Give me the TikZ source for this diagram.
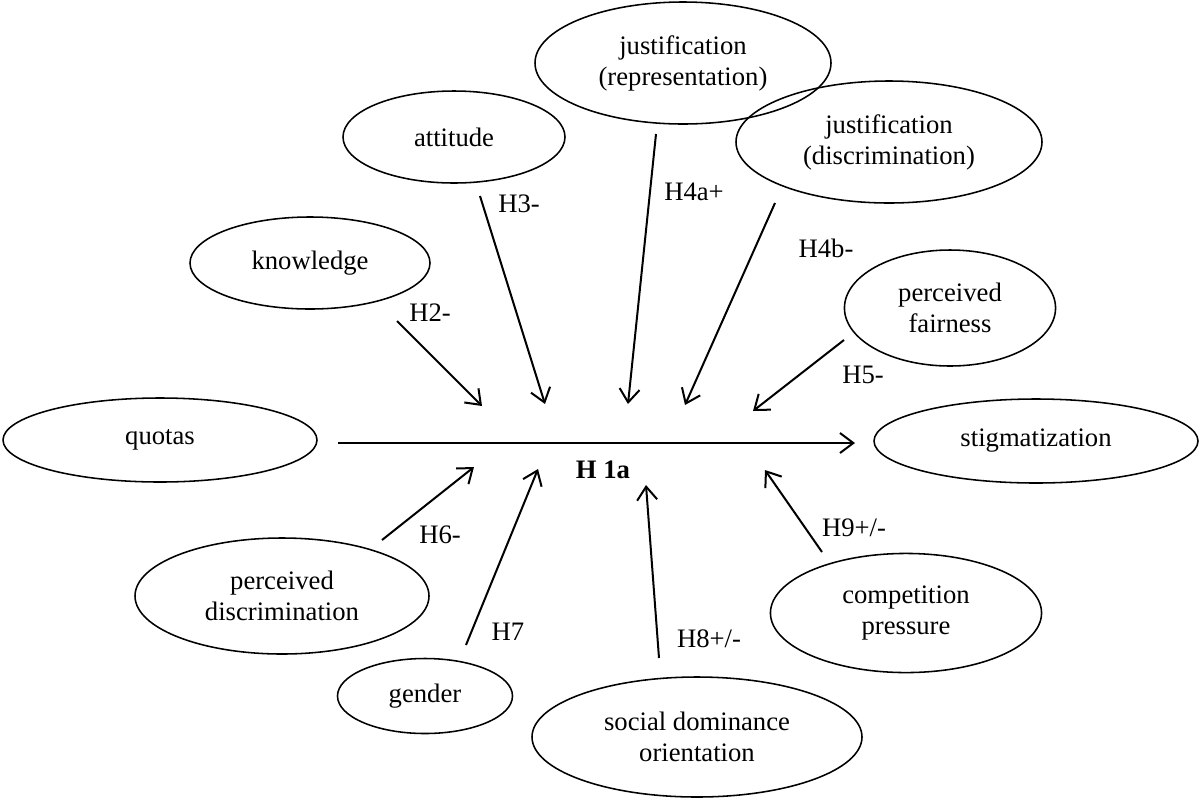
\documentclass[tikz,border=0pt]{standalone}
\usepackage{fontspec}
\setmainfont{Liberation Serif}
\usetikzlibrary{shapes.geometric,arrows.meta}

\def\ya{443}

\tikzset{
  factor/.style={ellipse, draw, line width=0.7pt, inner sep=0pt, align=center,
    font=\fontsize{12}{14}\selectfont},
  hyp/.style={-{Straight Barb[length=6pt,width=9pt]}, line width=0.9pt},
  hlabel/.style={font=\fontsize{12}{14}\selectfont, inner sep=0pt}
}

\begin{document}
\begin{tikzpicture}[x=0.45pt, y={(0pt,-0.45pt)}]
    \useasboundingbox (0,0) rectangle (1201,798);

    \node[factor, minimum width=141.3pt, minimum height=37.8pt] (quotas) at (160, 440) {quotas};
    \node[factor, minimum width=145.8pt, minimum height=37.8pt] (stigma) at (1036, 441) {stigmatization};
    \node[factor, minimum width=108pt, minimum height=41.4pt] (knowledge) at (310, 263) {knowledge};
    \node[factor, minimum width=99.9pt, minimum height=41.4pt] (attitude) at (454, 137) {attitude};
    \node[factor, minimum width=133.2pt, minimum height=54.9pt] (just_rep) at (683, 63)
      {justification\\(representation)};
    \node[factor, minimum width=137.7pt, minimum height=54.9pt] (just_dis) at (889, 142)
      {justification\\(discrimination)};
    \node[factor, minimum width=95pt, minimum height=52.2pt] (fairness) at (950, 308)
      {perceived\\fairness};
    \node[factor, minimum width=132.3pt, minimum height=52.2pt] (perc_dis) at (282, 596)
      {perceived\\discrimination};
    \node[factor, minimum width=78.75pt, minimum height=33.75pt] (gender) at (425, 696) {gender};
    \node[factor, minimum width=148.5pt, minimum height=54pt] (sdo) at (697, 737)
      {social dominance\\orientation};
    \node[factor, minimum width=122pt, minimum height=53.6pt] (competition) at (906, 613)
      {competition\\pressure};

    \coordinate (main_s) at (338, \ya);
    \coordinate (main_e) at (855, \ya);
    \coordinate (h2_s) at (397, 321);  \coordinate (h2_e) at (482, 406);
    \coordinate (h3_s) at (480, 196);  \coordinate (h3_e) at (545, 404);
    \coordinate (h4a_s) at (656, 134); \coordinate (h4a_e) at (628, 404);
    \coordinate (h4b_s) at (775, 203); \coordinate (h4b_e) at (685, 405);
    \coordinate (h5_s) at (844, 340);  \coordinate (h5_e) at (753, 411);
    \coordinate (h6_s) at (382, 540);  \coordinate (h6_e) at (474, 467);
    \coordinate (h7_s) at (466, 645);  \coordinate (h7_e) at (538, 469);
    \coordinate (h8_s) at (659, 658);  \coordinate (h8_e) at (646, 485);
    \coordinate (h9_s) at (822, 552);  \coordinate (h9_e) at (765, 470);

    \draw[hyp] (main_s) -- (main_e);
    \draw[hyp] (h2_s)  -- (h2_e);
    \draw[hyp] (h3_s)  -- (h3_e);
    \draw[hyp] (h4a_s) -- (h4a_e);
    \draw[hyp] (h4b_s) -- (h4b_e);
    \draw[hyp] (h5_s)  -- (h5_e);
    \draw[hyp] (h6_s)  -- (h6_e);
    \draw[hyp] (h7_s)  -- (h7_e);
    \draw[hyp] (h8_s)  -- (h8_e);
    \draw[hyp] (h9_s)  -- (h9_e);

    \node[hlabel] (h1a) at (603, 470) {\textbf{H 1a}};
    \node[hlabel] (lh2) at (430, 313) {H2-};
    \node[hlabel] (lh3) at (519, 204) {H3-};
    \node[hlabel] (lh4a) at (694, 192) {H4a+};
    \node[hlabel] (lh4b) at (826, 248) {H4b-};
    \node[hlabel] (lh5) at (863, 375) {H5-};
    \node[hlabel] (lh6) at (440, 535) {H6-};
    \node[hlabel] (lh7) at (508, 632) {H7};
    \node[hlabel] (lh8) at (709, 639) {H8+/-};
    \node[hlabel] (lh9) at (854, 528) {H9+/-};
  \end{tikzpicture}
\end{document}
